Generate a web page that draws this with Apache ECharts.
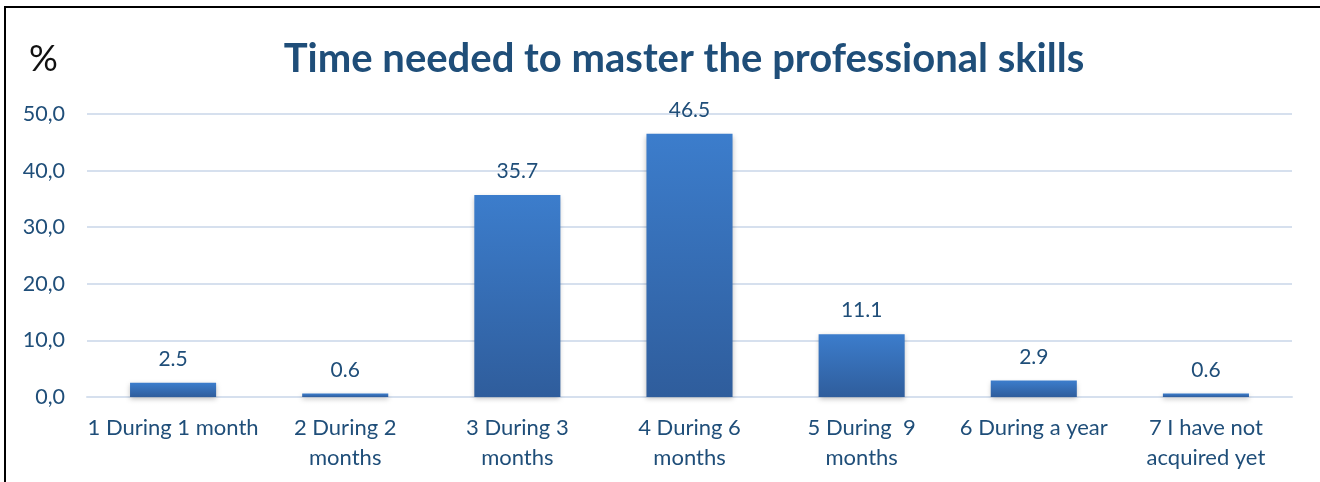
<!DOCTYPE html>
<html>
<head>
<meta charset="utf-8">
<script src="https://cdn.jsdelivr.net/npm/echarts@6/dist/echarts.min.js"></script>
<style>
  html, body { margin: 0; padding: 0; background: #fff; }
  #chart { width: 1320px; height: 482px; }
</style>
</head>
<body>
<div id="chart"></div>
<script>
// Categories (x axis) and shares in percent
const categories = [
  '1 During 1 month',
  '2 During 2\nmonths',
  '3 During 3\nmonths',
  '4 During 6\nmonths',
  '5 During  9\nmonths',
  '6 During a year',
  '7 I have not\nacquired yet'
];
const shares = [2.5, 0.6, 35.7, 46.5, 11.1, 2.9, 0.6];
const yTicks = { min: 0, max: 50, interval: 10 };

const FONT = 'Lato, "Open Sans", sans-serif';
const TEXT_BLUE = '#1f4e79';

const chart = echarts.init(document.getElementById('chart'), null, { renderer: 'canvas' });

chart.setOption({
  animation: false,
  backgroundColor: '#ffffff',
  title: {
    text: 'Time needed to master the professional skills',
    left: 679,
    top: 34,
    textAlign: 'center',
    textStyle: { fontFamily: FONT, fontSize: 40, fontWeight: 'bold', color: TEXT_BLUE }
  },
  graphic: [
    {
      type: 'rect',
      shape: { x: 5, y: 7, width: 1330, height: 500 },
      style: { fill: 'none', stroke: '#000', lineWidth: 2 },
      silent: true
    },
    {
      type: 'text',
      left: 29,
      top: 41,
      style: { text: '%', font: '36px ' + FONT, fill: '#111' }
    }
  ],
  grid: { left: 87, right: 28, top: 114, bottom: 85, containLabel: false },
  xAxis: {
    type: 'category',
    data: categories,
    axisLine: { show: true, lineStyle: { color: '#d6e0ee', width: 2 } },
    axisTick: { show: false },
    axisLabel: {
      margin: 16,
      fontFamily: FONT,
      fontSize: 22,
      lineHeight: 30,
      color: TEXT_BLUE,
      interval: 0
    }
  },
  yAxis: {
    type: 'value',
    min: yTicks.min,
    max: yTicks.max,
    interval: yTicks.interval,
    axisLine: { show: false },
    axisTick: { show: false },
    splitLine: { lineStyle: { color: '#d6e0ee', width: 2 } },
    axisLabel: {
      margin: 22,
      fontFamily: FONT,
      fontSize: 21.5,
      color: TEXT_BLUE,
      formatter: v => v.toFixed(1).replace('.', ',')
    }
  },
  series: [{
    type: 'bar',
    data: shares,
    barWidth: '50%',
    itemStyle: {
      color: new echarts.graphic.LinearGradient(0, 0, 0, 1, [
        { offset: 0, color: '#3c7dcc' },
        { offset: 1, color: '#2f5d9c' }
      ]),
      shadowColor: 'rgba(0,0,0,0.25)',
      shadowBlur: 5,
      shadowOffsetY: 2
    },
    label: {
      show: true,
      position: 'top',
      distance: 13,
      fontFamily: FONT,
      fontSize: 21,
      color: TEXT_BLUE,
      formatter: p => p.value.toFixed(1)
    }
  }]
});
</script>
</body>
</html>
